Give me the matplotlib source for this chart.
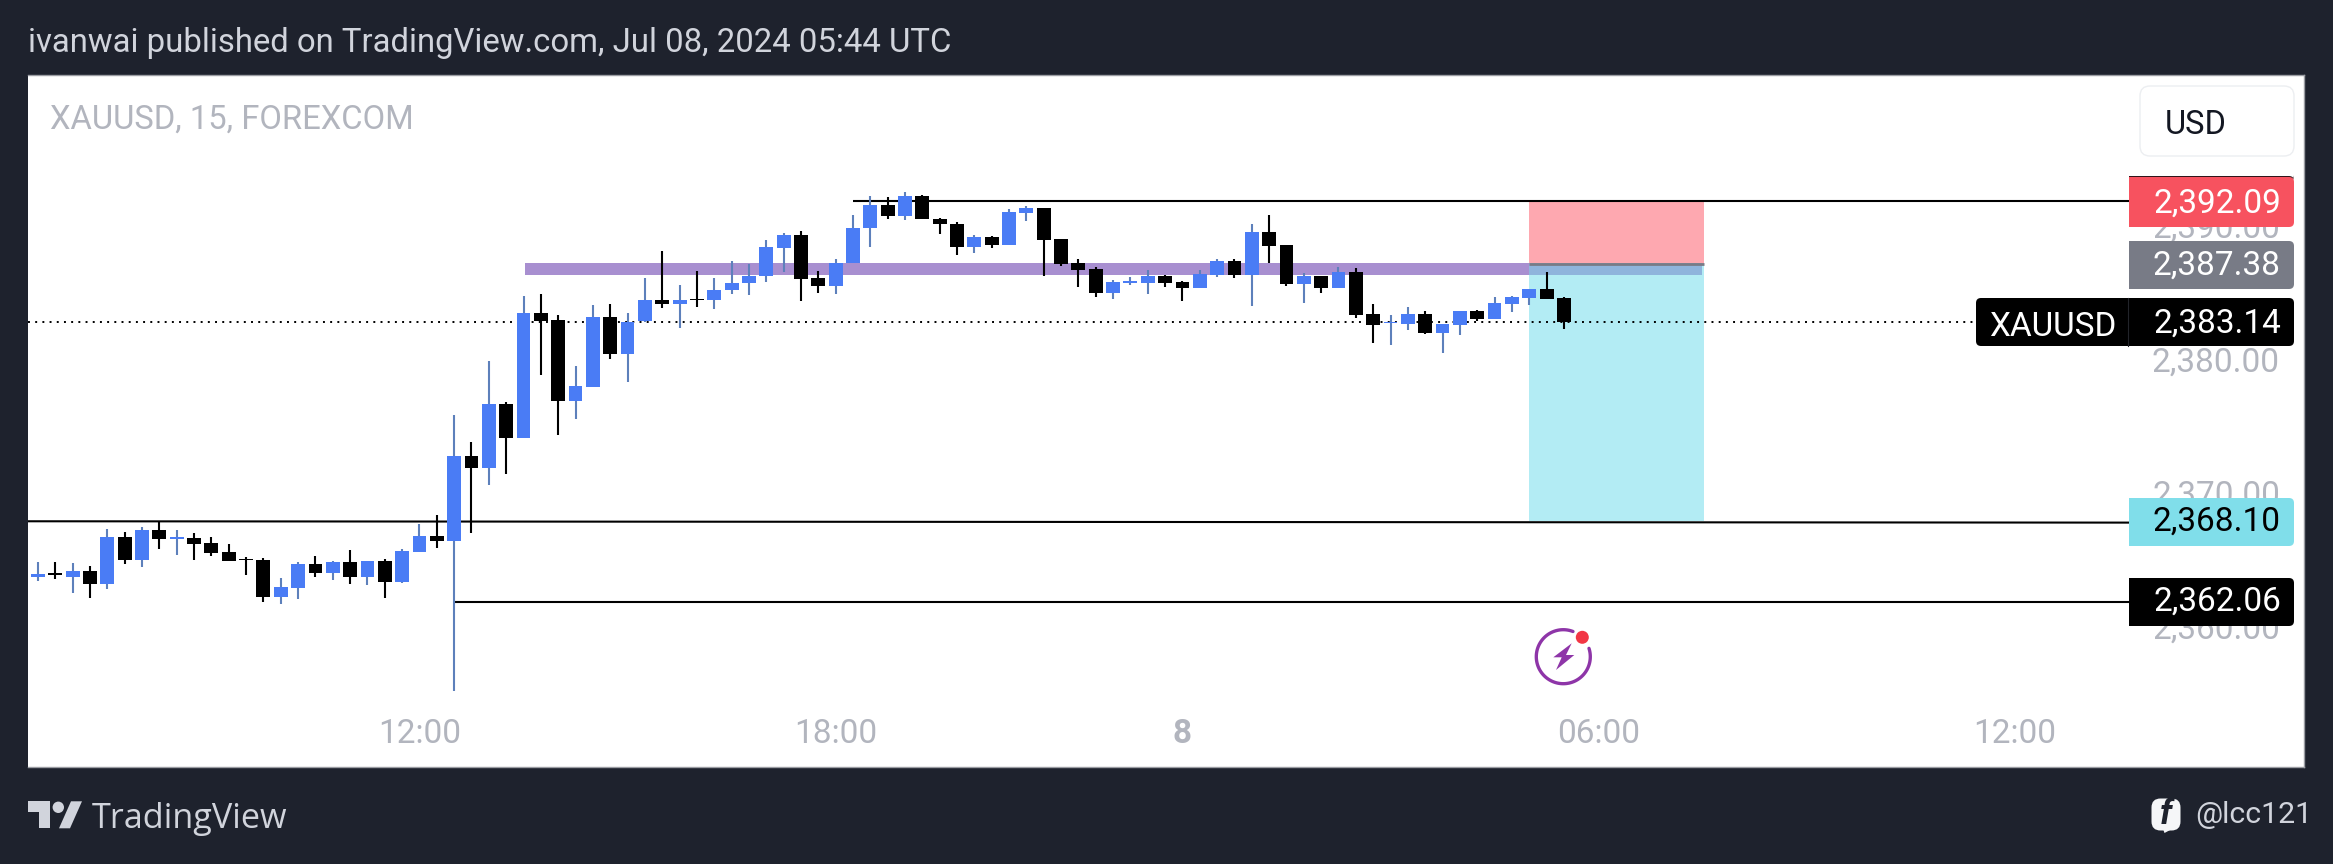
import matplotlib
matplotlib.use("Agg")
import matplotlib.pyplot as plt
import numpy as np
from matplotlib.patches import Rectangle, PathPatch, Polygon, Circle, FancyBboxPatch
from matplotlib.path import Path

plt.rcParams['font.family'] = ['Roboto', 'DejaVu Sans']

# ---------- data ----------
directions = ("bkbkbkbkbk" "kkkkbbkbkb" "kbbkbkbkbk" "kbbkbbkbkb" "bbbbkkbbbk"
              "bkkkbkbbkk" "kkbbbkkbbk" "bkkbkbkkbb" "kbbkbbbkk")
highs = [2365.07,2365.07,2364.95,2364.77,2367.49,2367.27,2367.64,2368.04,2367.42,2367.19,
         2366.90,2366.37,2365.40,2365.32,2363.83,2365.02,2365.47,2365.10,2365.92,2365.10,
         2365.25,2366.00,2367.89,2368.57,2376.03,2374.01,2380.07,2377.00,2384.94,2385.09,
         2383.51,2379.72,2384.26,2384.34,2383.66,2386.28,2388.30,2385.76,2386.81,2386.28,
         2387.55,2387.33,2389.13,2389.65,2389.80,2386.81,2387.70,2391.00,2392.42,2392.34,
         2392.72,2392.49,2390.77,2390.47,2389.50,2389.43,2391.45,2391.67,2391.52,2389.20,
         2387.70,2387.11,2386.13,2386.38,2386.91,2386.51,2386.06,2386.88,2387.70,2387.70,
         2390.32,2391.00,2388.75,2386.66,2386.43,2387.11,2387.03,2384.34,2383.56,2384.11,
         2383.81,2382.84,2383.81,2383.89,2384.86,2384.94,2385.51,2386.73,2384.86]
body_tops = [2364.15,2364.25,2364.35,2364.38,2366.90,2366.90,2367.42,2367.42,2366.92,2366.85,
             2366.47,2365.77,2365.30,2365.20,2363.15,2364.87,2364.87,2365.02,2365.02,2365.10,
             2365.10,2365.85,2366.97,2366.97,2372.96,2372.96,2376.85,2376.85,2383.66,2383.66,
             2383.14,2378.22,2383.36,2383.36,2383.04,2384.64,2384.64,2384.64,2384.71,2385.38,
             2385.91,2386.43,2388.60,2389.50,2389.50,2386.28,2387.40,2390.02,2391.74,2391.74,
             2392.42,2392.42,2390.70,2390.32,2389.35,2389.35,2391.22,2391.52,2391.52,2389.20,
             2387.40,2386.98,2385.98,2386.08,2386.46,2386.43,2385.98,2386.58,2387.55,2387.55,
             2389.72,2389.72,2388.75,2386.43,2386.43,2386.73,2386.73,2383.59,2383.04,2383.59,
             2383.59,2382.84,2383.81,2383.81,2384.41,2384.86,2385.46,2385.46,2384.79]
body_bottoms = [2363.95,2364.08,2363.95,2363.43,2363.43,2365.22,2365.22,2366.80,2366.80,2366.42,
                2365.75,2365.15,2365.17,2362.45,2362.45,2363.13,2364.25,2364.25,2363.95,2363.95,
                2363.58,2363.58,2365.82,2366.65,2366.65,2372.11,2372.11,2374.36,2374.36,2383.07,
                2377.13,2377.13,2378.17,2380.62,2380.62,2383.07,2384.39,2384.39,2384.64,2384.64,
                2385.38,2385.91,2386.43,2388.58,2386.26,2385.73,2385.73,2387.40,2390.02,2390.97,
                2390.97,2390.70,2390.32,2388.65,2388.65,2388.80,2388.80,2391.20,2389.15,2387.38,
                2386.91,2385.21,2385.21,2385.96,2385.96,2385.96,2385.58,2385.58,2386.56,2386.56,
                2386.56,2388.73,2385.88,2385.88,2385.58,2385.58,2383.56,2382.82,2382.92,2382.89,
                2382.19,2382.22,2382.82,2383.26,2383.26,2384.39,2384.84,2384.76,2382.99]
lows = [2363.65,2363.75,2362.75,2362.38,2363.05,2364.92,2364.70,2366.05,2365.60,2365.22,
        2365.52,2365.15,2364.10,2362.08,2361.93,2362.30,2363.95,2363.73,2363.43,2363.35,
        2362.38,2363.50,2365.82,2366.12,2355.42,2367.24,2370.79,2371.66,2374.36,2379.07,
        2374.56,2375.73,2378.17,2380.24,2378.50,2382.99,2384.09,2382.59,2384.16,2384.01,
        2385.14,2385.01,2385.98,2386.78,2384.61,2385.21,2385.14,2387.40,2388.65,2390.75,
        2390.67,2390.70,2389.62,2388.05,2388.20,2388.58,2388.80,2390.60,2386.48,2387.21,
        2385.66,2384.91,2384.76,2385.78,2385.14,2385.66,2384.61,2385.58,2386.41,2386.33,
        2384.24,2387.45,2385.73,2384.46,2385.21,2385.58,2383.34,2381.47,2381.32,2382.44,
        2382.14,2380.72,2382.07,2383.12,2383.26,2383.79,2384.31,2384.76,2382.52]

price_ticks = [2360, 2370, 2380, 2390]
price_tick_labels = ["2,360.00", "2,370.00", "2,380.00", "2,390.00"]
time_ticks = [22, 46, 66, 90, 114]
time_tick_labels = ["12:00", "18:00", "8", "06:00", "12:00"]

stop_price, entry_price, last_price, target_price, low_line_price = 2392.09, 2387.38, 2383.14, 2368.10, 2362.06
last_line_price = 2383.0
target_line_end_price = 2368.0
band_low, band_high = 2386.53, 2387.42
# start bars of drawn lines / zones
band_start_bar, box_start_bar, box_end_bar = 28.1, 86.0, 96.1
stop_line_start_bar, low_line_start_bar = 47.0, 24.05

# ---------- colours ----------
BG = '#1e222d'; BLUE = '#4a7cf5'; WICK_BLUE = '#5d80bb'; BLACK = '#000000'
GREY_TXT = '#b2b5be'

W, H = 2333, 864
fig = plt.figure(figsize=(W/100, H/100), dpi=100, facecolor=BG)

L, R, T, B = 28, 2304, 75, 767
ax = fig.add_axes([L/W, 1-B/H, (R-L)/W, (B-T)/H], facecolor='white')
x0, dx = 38.0, 17.34
ax.set_xlim((L-x0)/dx, (R-x0)/dx)
py = 13.364; p_top = 200.67
ax.set_ylim(stop_price-(B-p_top)/py, stop_price+(p_top-T)/py)

for s in ax.spines.values():
    s.set_color('#9b9da3'); s.set_linewidth(1.0)
ax.spines['left'].set_visible(False)

# zones
ax.add_patch(Rectangle((band_start_bar, band_low), box_start_bar-band_start_bar, band_high-band_low,
                       fc='#a88fd0', ec='none', zorder=1))
ax.add_patch(Rectangle((box_start_bar, entry_price), box_end_bar-box_start_bar, stop_price-entry_price,
                       fc='#fea8b0', ec='none', zorder=1))
ax.add_patch(Rectangle((box_start_bar, target_price), box_end_bar-box_start_bar, entry_price-target_price,
                       fc='#b3ecf4', ec='none', zorder=1))
ax.add_patch(Rectangle((box_start_bar, band_low), box_end_bar-0.12-box_start_bar, band_high-band_low,
                       fc='#8fb4dc', ec='none', zorder=1.2))
ax.hlines(entry_price, box_start_bar, box_end_bar, color='#787b86', lw=2.0, zorder=1.5)

# horizontal lines
right_bar = (2130-x0)/dx
ax.hlines(stop_price, stop_line_start_bar, right_bar, color='black', lw=1.5, zorder=2)
ax.plot([(L-x0)/dx, right_bar], [target_price, target_line_end_price], color='black', lw=1.5, zorder=2)
ax.hlines(low_line_price, low_line_start_bar, right_bar, color='black', lw=1.5, zorder=2)
ax.hlines(last_line_price, (L-x0)/dx, (1977-x0)/dx, color='black', lw=1.4,
          linestyles=[(0, (1.0, 2.7))], zorder=2)

# candles
xs = np.arange(len(highs))
is_up = np.array([d == 'b' for d in directions])
ax.vlines(xs, lows, highs, colors=[WICK_BLUE if u else BLACK for u in is_up], lw=1.5, zorder=3)
tops = np.array(body_tops); bots = np.array(body_bottoms)
ax.bar(xs, tops-bots, bottom=bots, width=0.8,
       color=[BLUE if u else BLACK for u in is_up], linewidth=0, zorder=4)

# axes ticks
ax.yaxis.tick_right()
ax.set_yticks(price_ticks, price_tick_labels)
ax.set_xticks(time_ticks, time_tick_labels)
ax.tick_params(axis='y', length=0, pad=-17.3, labelsize=24, labelcolor=GREY_TXT)
ax.tick_params(axis='x', length=0, pad=-35.5, labelsize=24, labelcolor=GREY_TXT)
for t in ax.get_yticklabels():
    t.set_ha('right')
    t.set_va('center')
ax.get_xticklabels()[2].set_fontweight('bold')

# pixel overlay for the chart furniture
ov = fig.add_axes([0, 0, 1, 1], facecolor='none')
ov.set_xlim(0, W); ov.set_ylim(H, 0); ov.axis('off')

def right_round(x1, y1, x2, y2, fc, r=5, rl=0, zorder=5):
    verts = [(x1+rl, y1), (x2-r, y1), (x2, y1), (x2, y1+r), (x2, y2-r), (x2, y2), (x2-r, y2),
             (x1+rl, y2), (x1, y2), (x1, y2-rl), (x1, y1+rl), (x1, y1), (x1+rl, y1)]
    codes = [Path.MOVETO, Path.LINETO, Path.CURVE3, Path.CURVE3, Path.LINETO, Path.CURVE3, Path.CURVE3,
             Path.LINETO, Path.CURVE3, Path.CURVE3, Path.LINETO, Path.CURVE3, Path.CURVE3]
    ov.add_patch(PathPatch(Path(verts, codes), fc=fc, ec='none', zorder=zorder))

LBL = 24
def label(y1, y2, ty, fc, txt, color):
    right_round(2129, y1, 2294, y2, fc)
    ov.text(2281, ty, txt, ha='right', va='center_baseline', fontsize=LBL, color=color, zorder=6)

right_round(2129, 176, 2294, 180, '#30151a', zorder=4.5)
label(177, 227, 200, '#f7525f', f"{stop_price:,.2f}", 'white')
label(241, 289, 261.7, '#787b86', f"{entry_price:,.2f}", 'white')
label(498, 546, 518, '#80deea', f"{target_price:,.2f}", BLACK)
label(578, 626, 598, BLACK, f"{low_line_price:,.2f}", 'white')
right_round(1976, 298, 2294, 346, BLACK, rl=5)
ov.plot([2128, 2128], [298, 346], color='#22242a', lw=0.8, zorder=6)
ov.text(2281, 320, f"{last_price:,.2f}", ha='right', va='center_baseline', fontsize=LBL, color='white', zorder=6)
ov.text(1989, 323, "XAUUSD", ha='left', va='center_baseline', fontsize=LBL, color='white', zorder=6)

# USD button
ov.add_patch(FancyBboxPatch((2140+8, 86+8), 154-16, 70-16, boxstyle="round,pad=8,rounding_size=10",
                            fc='white', ec='#eceef1', lw=1.0, zorder=5))
ov.text(2165, 121, "USD", ha='left', va='center_baseline', fontsize=23.5, color='#131722', zorder=6)

# header / footer text
ov.text(28, 43, "ivanwai published on TradingView.com, Jul 08, 2024 05:44 UTC", ha='left',
        va='center', fontsize=23.65, color='#d1d4dc')
ov.text(50, 119.5, "XAUUSD, 15, FOREXCOM", ha='left', va='center', fontsize=23.6, color=GREY_TXT)
ov.text(92, 819.5, "TradingView", ha='left', va='center', fontsize=24.7, color='#d1d4dc', family='Open Sans')
ov.text(2195, 815, "@lcc121", ha='left', va='center', fontsize=21.8, color='#d1d4dc')

# TradingView logo
LOGO = '#d1d4dc'
ov.add_patch(Polygon([(28, 801.3), (50, 801.3), (50, 828.3), (39, 828.3), (39, 812.3), (28, 812.3)], fc=LOGO, ec='none'))
ov.add_patch(Circle((58.3, 807.3), 5.7, fc=LOGO, ec='none'))
ov.add_patch(Polygon([(71, 801.3), (82, 801.3), (70, 828.3), (59, 828.3)], fc=LOGO, ec='none'))

# facebook icon
ov.add_patch(FancyBboxPatch((2156, 803), 20, 23, boxstyle="round,pad=4.5,rounding_size=9", fc='#f5f6f8', ec='none'))
ov.add_patch(Polygon([(2162, 826), (2172, 829), (2164.5, 833)], fc='#f5f6f8', ec='none'))
ov.text(2166, 815, "f", ha='center', va='center', fontsize=25, style='italic', fontweight='bold', color=BG, zorder=6)

# lightning badge
PURPLE = '#8e35a8'
angles = np.radians(np.linspace(69, 378, 120))
ov.plot(1563.3+27*np.cos(angles), 656.7-27*np.sin(angles), color=PURPLE, lw=2.4, solid_capstyle='round', zorder=6)
ov.add_patch(Polygon([(1571.7, 643.3), (1553.3, 657.3), (1561.7, 657.3), (1556, 670), (1574.3, 655), (1566, 655)],
                     fc=PURPLE, ec='none', zorder=6))
ov.add_patch(Circle((1582.3, 637.3), 6.5, fc='#f23645', ec='none', zorder=6))

fig.savefig("out.png", dpi=100, facecolor=BG)
